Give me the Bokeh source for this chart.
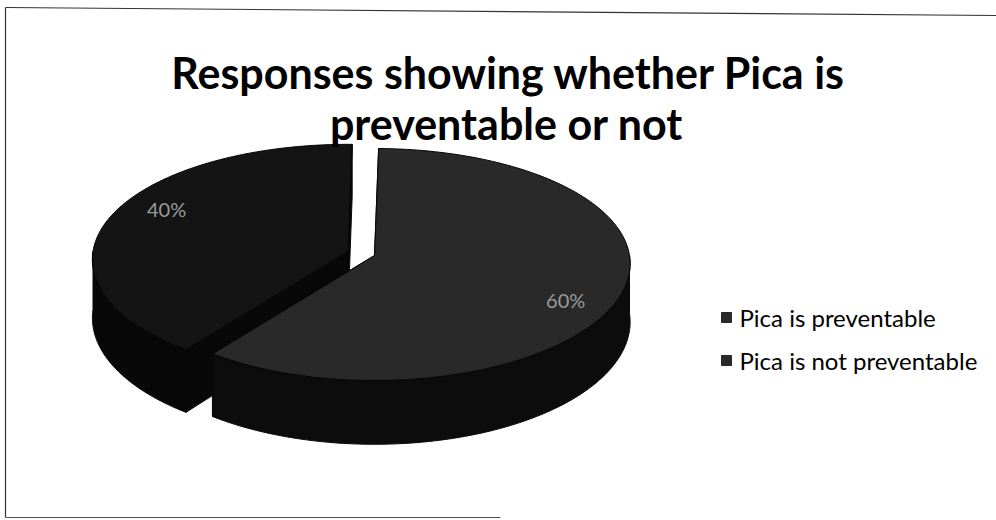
import numpy as np
from bokeh.plotting import figure
from bokeh.models import Range1d
from bokeh.core.properties import value
from bokeh.embed import file_html
from bokeh.resources import INLINE

# ---- data ----
categories = ["Pica is preventable", "Pica is not preventable"]
values = [60, 40]
pct_labels = ["60%", "40%"]
title_lines = ["Responses showing whether Pica is", "preventable or not"]

# ---- styling / layout ----
W, H = 996, 520
top_colors = ["#292929", "#141414"]
side_colors = ["#0c0c0c", "#080808"]
explode = [0, 28]
CX, CY = 374, 255          # pie centre
RX = 255                   # horizontal radius
A, B = 116, 9              # vertical radius (mean) and perspective asymmetry
K = 0.07                   # front wider than back
DEPTH = 58
START = 1.0                # first slice angle (deg, clockwise from 12 o'clock)

p = figure(width=W, height=H, x_range=Range1d(0, W), y_range=Range1d(H, 0),
           output_backend="svg", toolbar_location=None, min_border=0)
p.axis.visible = False
p.grid.visible = False
p.outline_line_color = None
p.background_fill_color = "white"
p.border_fill_color = "white"


def proj(theta, r=1.0, dx=0.0, dy=0.0, drop=0.0):
    t = np.radians(theta)
    u = r * np.sin(t)
    v = -r * np.cos(t)
    x = CX + dx + RX * u * (1 + K * v)
    y = CY + dy + A * v + B * v * v + drop * (1 + 0.1 * v)
    return x, y


total = float(sum(values))
angles = [START]
for v_ in values:
    angles.append(angles[-1] + 360.0 * v_ / total)

# draw back (exploded) slice first, then front slice
order = sorted(range(len(values)), key=lambda i: -explode[i])
for i in order:
    a0, a1 = angles[i], angles[i + 1]
    mid = np.radians((a0 + a1) / 2)
    dx = explode[i] * np.sin(mid)
    dy = explode[i] * (-np.cos(mid)) * (A / RX)

    # cut faces
    for a in (a0, a1):
        cx0, cy0 = proj(a, 0.0, dx, dy)
        rx0, ry0 = proj(a, 1.0, dx, dy)
        cx1, cy1 = proj(a, 0.0, dx, dy, DEPTH)
        rx1, ry1 = proj(a, 1.0, dx, dy, DEPTH)
        p.patch([cx0, rx0, rx1, cx1], [cy0, ry0, ry1, cy1],
                fill_color=side_colors[i], line_color=side_colors[i], line_width=1)

    # visible outer side (front half only)
    lo, hi = max(a0, 90.0), min(a1, 270.0)
    if hi > lo:
        th = np.linspace(lo, hi, 80)
        xt, yt = proj(th, 1.0, dx, dy)
        xb, yb = proj(th[::-1], 1.0, dx, dy, DEPTH)
        p.patch(np.concatenate([xt, xb]), np.concatenate([yt, yb]),
                fill_color=side_colors[i], line_color=side_colors[i], line_width=1)

    # top face
    th = np.linspace(a0, a1, 160)
    xt, yt = proj(th, 1.0, dx, dy)
    cx0, cy0 = proj(a0, 0.0, dx, dy)
    p.patch(np.concatenate([[cx0], xt]), np.concatenate([[cy0], yt]),
            fill_color=top_colors[i], line_color="#050505", line_width=1)

    # percentage label
    la = (a0 + a1) / 2 + 8
    lx, ly = proj(la, 0.82, dx, dy)
    p.text(x=[lx], y=[ly], text=[pct_labels[i]], text_font=value("Lato"),
           text_font_size="20px", text_color="#9a9a9a",
           text_align="center", text_baseline="middle")

# title
p.text(x=[508, 506], y=[72, 123], text=title_lines, text_font=value("Lato"),
       text_font_style="bold", text_font_size="43px", text_color="black",
       text_align="center", text_baseline="alphabetic")

# legend
leg_y = [317, 360]
p.scatter(x=[726] * len(categories), y=leg_y, marker="square", size=10,
          fill_color=top_colors[0], line_color=top_colors[0])
p.text(x=[739] * len(categories), y=leg_y, text=categories, text_font=value("Lato"),
       text_font_size="24px", text_color="black",
       text_align="left", text_baseline="middle")

# scanned frame
p.line(x=[5, 996], y=[7, 15], line_color="#333333", line_width=1.2)
p.line(x=[5, 5], y=[7, 517], line_color="#333333", line_width=1.2)
p.line(x=[5, 500], y=[517, 517], line_color="#555555", line_width=1.2)

open("out.html", "w").write(file_html(p, INLINE))
